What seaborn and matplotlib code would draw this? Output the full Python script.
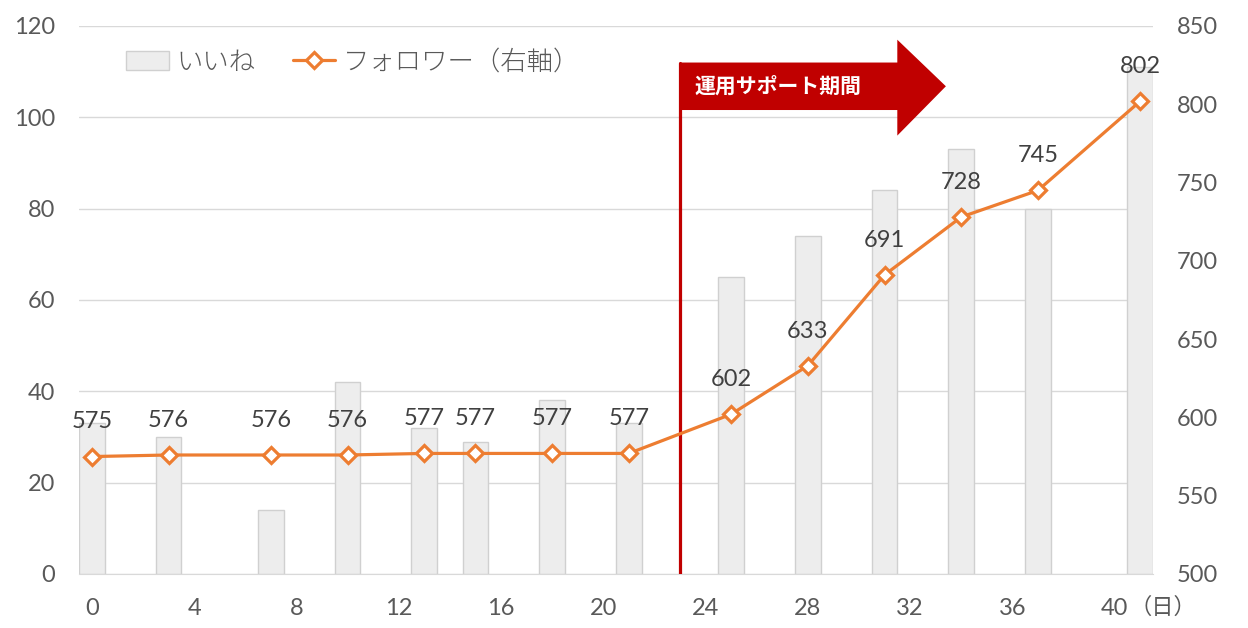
import matplotlib
matplotlib.use("Agg")
import matplotlib.pyplot as plt
import matplotlib.patches as mpatches
from matplotlib.lines import Line2D
from matplotlib.ticker import FixedLocator
import pandas as pd
import seaborn as sns

# data
days = [0, 3, 7, 10, 13, 15, 18, 21, 25, 28, 31, 34, 37, 41]
likes = [33, 30, 14, 42, 32, 29, 38, 33, 65, 74, 84, 93, 80, 111]
followers = [575, 576, 576, 576, 577, 577, 577, 577, 602, 633, 691, 728, 745, 802]
x_ticks = list(range(0, 41, 4))
left_ticks = list(range(0, 121, 20))
right_ticks = list(range(500, 851, 50))
support_start = 23
support_label = "運用サポート期間"
legend_labels = ["いいね", "フォロワー（右軸）"]

bar_color = "#EDEDED"
bar_edge = "#D0D0D0"
line_color = "#ED7D31"
red = "#C00000"
grid_color = "#D9D9D9"
tick_color = "#595959"

sns.set_style("white")
plt.rcParams["font.family"] = ["Lato", "Noto Sans CJK JP", "DejaVu Sans"]

df = pd.DataFrame({"day": days, "likes": likes, "followers": followers})

fig = plt.figure(figsize=(12.48, 6.28), dpi=100)
ax = fig.add_axes([0.0633, 0.086, 0.8606, 0.8726])

sns.barplot(data=df, x="day", y="likes", native_scale=True, width=0.5,
            color=bar_color, saturation=1, edgecolor=bar_edge, linewidth=1, ax=ax)
ax.set_xlim(-0.5, 41.5)
ax.set_ylim(0, 120)
ax.set_yticks(left_ticks)
ax.set_xticks(x_ticks)
ax.set_xticklabels([str(t) for t in x_ticks])
ax.xaxis.set_minor_locator(FixedLocator([t - 0.5 for t in x_ticks]))
ax.grid(axis="y", color=grid_color, lw=1)
ax.grid(axis="x", visible=False)
ax.set_axisbelow(True)
for s in ["top", "left", "right"]:
    ax.spines[s].set_visible(False)
ax.spines["bottom"].set_color(grid_color)
ax.tick_params(axis="x", which="major", length=0, pad=17, labelsize=17, labelcolor=tick_color)
ax.tick_params(axis="x", which="minor", length=8, width=1, color=grid_color, direction="out")
ax.tick_params(axis="y", length=0, pad=17, labelsize=17, labelcolor=tick_color)
ax.set_xlabel("")
ax.set_ylabel("")

ax.annotate("（日）", xy=(40, 0), xycoords=("data", "axes fraction"), xytext=(11, -16),
            textcoords="offset points", ha="left", va="top", fontsize=16, color=tick_color)

# support period marker: vertical line + arrow (left axis units)
box_top, box_bot = 112, 101.6
head_x, tip_x = 31.5, 33.4
head_top, head_bot = 117, 96
ax.plot([support_start, support_start], [0, box_top], color=red, lw=2.3, zorder=3)
arrow = mpatches.Polygon(
    [(support_start, box_bot), (support_start, box_top), (head_x, box_top), (head_x, head_top),
     (tip_x, (box_top + box_bot) / 2), (head_x, head_bot), (head_x, box_bot)],
    closed=True, facecolor=red, edgecolor="none", zorder=3)
ax.add_patch(arrow)
ax.text(support_start + 0.55, (box_top + box_bot) / 2, support_label, color="white",
        fontsize=15, fontweight="bold", ha="left", va="center", zorder=4)

ax2 = ax.twinx()
sns.lineplot(data=df, x="day", y="followers", ax=ax2, color=line_color, lw=2.3,
             marker="D", markersize=8, markerfacecolor="white",
             markeredgecolor=line_color, markeredgewidth=2.3)
ax2.set_ylim(500, 850)
ax2.set_yticks(right_ticks)
ax2.grid(False)
for s in ax2.spines.values():
    s.set_visible(False)
ax2.tick_params(axis="y", length=0, pad=17, labelsize=17, labelcolor=tick_color)
ax2.set_ylabel("")
ax2.set_xlabel("")

for d, f in zip(days, followers):
    ax2.annotate(str(f), xy=(d, f), xytext=(0, 25), textcoords="offset points",
                 ha="center", va="center", fontsize=17, color="#404040")

handles = [
    mpatches.Patch(facecolor=bar_color, edgecolor=bar_edge, lw=1),
    Line2D([0], [0], color=line_color, lw=2.3, marker="D", markersize=8,
           markerfacecolor="white", markeredgecolor=line_color, markeredgewidth=2.3),
]
leg = ax2.legend(handles, legend_labels, loc="upper left", bbox_to_anchor=(0.022, 1.0),
                 ncol=2, frameon=False, handlelength=1.6, columnspacing=1.4,
                 handletextpad=0.3, prop={"size": 19, "weight": "light"})
for t in leg.get_texts():
    t.set_color(tick_color)

fig.savefig("out.png", dpi=100)
